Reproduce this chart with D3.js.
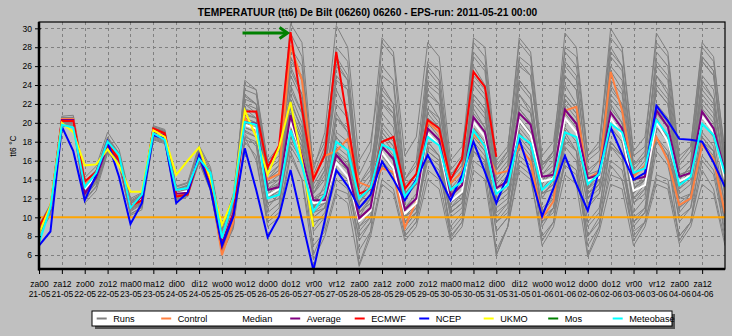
<!DOCTYPE html>
<html>
<head>
<meta charset="utf-8">
<script src="https://cdn.jsdelivr.net/npm/d3@7"></script>
<style>
  html, body { margin: 0; padding: 0; background: #C0C0C0; }
  svg { display: block; }
  text { font-family: "Liberation Sans", Arial, sans-serif; fill: #000; }
</style>
</head>
<body>
<svg id="chart" width="732" height="336"></svg>
<script>
// ---------------- DATA ----------------
const titleText = "TEMPERATUUR (tt6) De Bilt (06260) 06260 - EPS-run: 2011-05-21 00:00";
const yAxisTitle = "tt6 \u00B0C";
const yTicks = [6, 8, 10, 12, 14, 16, 18, 20, 22, 24, 26, 28, 30];
const xTickDay = ["za00","za12","zo00","zo12","ma00","ma12","di00","di12","wo00","wo12","do00","do12","vr00","vr12",
  "za00","za12","zo00","zo12","ma00","ma12","di00","di12","wo00","wo12","do00","do12","vr00","vr12","za00","za12"];
const xTickDate = ["21-05","21-05","22-05","22-05","23-05","23-05","24-05","24-05","25-05","25-05","26-05","26-05","27-05","27-05",
  "28-05","28-05","29-05","29-05","30-05","30-05","31-05","31-05","01-06","01-06","02-06","02-06","03-06","03-06","04-06","04-06"];
const thresholdValue = 10;
// time steps of 6 hours from 21-05 00:00 (0 .. 60)
const stepHours = 6;

const runs = [
  [9.0,11.2,20.5,20.6,13.8,15.0,18.5,16.8,11.5,12.2,19.4,19.0,12.8,13.2,16.9,14.5,7.8, 11.0,22.5,22.0,14.5,15.5,29.5,27.0,14.0,17.0,28.0,26.5,13.5,15.0,24.0,22.0,12.0,13.5,22.5,20.5,13.0,14.5,24.0,22.5,13.5,15.0,23.0,21.0,14.5,15.5,26.0,24.5,15.0,16.0,24.0,22.0,13.0,14.0,22.0,20.5,14.5,15.0,23.5,22.0,15.0],
  [8.5,10.6,20.0,20.1,12.5,14.0,17.2,15.8,10.8,11.6,18.6,18.2,12.0,12.5,16.2,13.4,6.8, 10.0,20.5,20.0,12.0,13.0,24.0,21.0,11.0,13.5,22.0,20.5,10.0,12.0,28.5,27.0,14.0,16.0,26.5,25.5,15.0,16.5,29.0,28.0,16.0,17.5,27.0,26.0,15.0,17.0,29.5,28.0,16.5,18.0,28.0,26.0,15.0,16.5,25.0,23.0,14.0,15.5,24.5,22.5,14.0],
  [8.2,10.2,19.6,19.7,11.5,12.8,16.8,15.6,10.2,10.8,18.2,17.8,11.7,12.2,15.8,12.8,6.2, 8.8,18.5,16.0,9.5,10.5,17.0,14.0,7.0,8.5,13.0,12.5,6.5,8.5,14.0,13.0,8.0,9.5,15.0,14.0,8.0,9.5,16.0,15.0,6.5,9.0,15.0,14.0,8.0,9.5,16.0,15.0,7.0,9.0,15.5,14.0,8.0,9.5,14.5,14.0,8.0,9.5,16.0,14.5,8.5],
  [8.9,11.0,20.4,20.4,13.3,14.6,17.8,16.2,11.4,12.2,19.2,18.8,12.6,13.0,16.6,14.0,7.6, 10.8,20.8,20.5,13.5,14.5,22.5,19.0,12.0,12.5,17.5,16.5,10.5,11.5,19.5,18.0,11.0,12.5,20.5,19.5,12.5,13.5,22.0,20.5,13.0,14.0,21.5,20.0,14.0,14.5,22.0,20.5,14.5,15.0,22.0,20.0,13.5,14.0,21.5,19.5,14.5,15.0,22.0,20.5,14.5],
  [8.7,10.8,20.3,20.3,13.0,14.2,17.9,16.3,11.0,11.8,19.0,18.7,12.4,12.9,16.5,13.8,7.2, 10.5,23.5,23.0,15.0,16.0,27.0,24.5,13.0,15.0,25.0,23.5,11.5,13.5,21.0,19.5,11.0,12.0,19.5,18.0,11.5,12.5,21.0,19.5,12.0,13.0,26.0,25.0,15.5,16.5,24.0,22.0,14.0,15.0,27.0,25.5,15.5,16.5,26.5,25.0,15.0,16.0,27.0,25.5,16.0],
  [8.6,10.7,20.1,20.0,12.8,14.0,17.4,15.9,11.1,11.9,18.9,18.4,12.3,12.7,16.3,13.6,7.0, 10.2,19.0,18.5,11.5,12.0,18.5,16.0,9.5,10.0,14.0,13.0,8.0,9.5,16.5,15.0,9.0,10.5,17.0,16.0,10.0,11.0,18.0,16.5,10.5,11.5,17.5,16.0,11.0,12.0,18.5,17.0,11.5,12.5,17.5,16.0,10.0,11.0,18.0,16.5,12.0,12.5,18.5,17.0,11.5],
  [9.2,11.4,20.7,20.8,14.2,15.4,19.0,17.2,12.0,12.6,19.6,19.2,13.2,13.6,17.4,15.0,8.5, 12.0,24.0,23.5,16.0,17.0,30.5,28.5,15.0,19.0,30.3,28.0,16.0,18.0,26.0,24.5,14.0,15.5,24.0,23.0,14.0,15.5,26.0,24.0,15.0,16.5,24.5,23.0,14.5,16.0,23.0,21.5,13.0,14.5,25.5,23.5,14.5,15.5,23.5,22.0,13.5,15.0,24.0,22.5,14.5],
  [8.3,10.4,19.8,19.9,11.8,13.2,16.9,15.7,10.4,11.0,18.4,18.0,11.9,12.4,16.0,13.0,6.4, 9.2,18.8,17.5,9.8,11.0,19.0,17.0,6.0,9.0,18.5,17.0,5.0,8.5,19.0,17.5,8.0,9.5,18.0,16.5,7.8,9.5,19.5,17.5,6.0,9.0,18.5,17.0,7.5,9.5,19.0,17.0,6.0,9.0,18.0,16.5,7.5,9.5,18.5,16.5,7.5,9.5,18.0,16.5,7.5],
  [8.8,10.9,20.2,20.2,12.9,14.3,17.6,16.0,11.2,12.0,19.0,18.6,12.5,12.8,16.5,13.8,7.4, 10.5,19.8,19.4,13.0,13.6,20.1,16.5,11.5,11.7,15.8,14.3,9.6,10.7,16.9,15.2,10.4,11.5,18.9,17.6,11.7,12.7,20.1,18.5,12.7,13.4,20.3,18.7,13.8,14.1,20.5,19.0,13.9,14.2,20.5,18.7,12.8,13.4,20.1,18.0,13.8,14.4,20.7,19.0,14.0],
  [8.9,11.1,20.6,20.5,13.6,14.8,18.2,16.6,11.6,12.4,19.5,19.1,12.9,13.3,16.9,14.4,7.9, 11.5,21.5,21.0,14.0,15.0,23.5,21.0,12.5,14.0,20.5,19.0,11.5,13.0,22.0,20.5,12.0,13.5,25.5,24.0,14.0,15.5,27.5,26.0,15.5,17.0,29.0,27.5,16.5,18.0,27.5,26.0,16.0,17.0,29.0,27.5,16.5,17.5,29.5,27.5,16.5,17.5,28.0,26.5,17.0],
  [8.6,10.7,20.3,20.4,13.2,14.5,17.7,16.1,11.3,12.1,19.1,18.7,12.6,13.0,16.7,14.0,7.5, 11.2,24.5,23.5,15.5,16.5,26.0,23.0,12.5,15.0,23.5,21.0,11.0,12.0,17.5,16.0,9.5,10.5,16.0,15.0,9.0,10.5,17.0,15.5,9.5,10.5,16.5,15.5,10.0,11.0,16.0,15.0,9.0,10.5,16.0,15.0,9.5,10.5,17.0,15.5,10.0,11.0,16.5,15.0,9.5],
  [8.4,10.5,19.9,19.9,12.2,13.6,17.1,15.7,10.6,11.4,18.5,18.1,12.1,12.5,16.1,13.2,6.6, 9.5,18.2,17.8,11.0,12.5,17.5,15.5,10.0,11.0,16.5,15.0,8.5,10.0,18.0,16.5,9.5,11.0,20.0,18.5,11.0,12.0,21.5,19.5,11.5,12.5,19.0,17.5,12.5,13.0,21.0,19.5,12.0,13.0,19.5,18.0,11.5,12.5,20.5,18.5,12.5,13.5,21.0,19.5,12.5],
  [9.1,11.3,20.4,20.5,13.5,14.7,18.1,16.5,11.7,12.3,19.3,18.9,12.9,13.4,17.0,14.6,8.0, 11.5,22.0,21.0,14.0,15.5,25.0,22.5,12.5,14.5,24.5,23.5,12.0,14.0,25.0,24.0,13.0,14.5,23.0,22.0,13.5,15.0,28.5,27.0,15.0,17.0,28.5,27.0,15.5,17.0,25.0,23.5,13.0,15.0,23.5,22.0,12.5,14.0,24.0,22.5,13.0,14.5,25.0,23.5,14.0],
  [8.5,10.6,20.0,20.0,12.6,13.9,17.3,15.8,10.9,11.7,18.7,18.3,12.2,12.6,16.2,13.3,6.9, 9.8,19.5,19.0,12.0,12.5,19.5,17.0,10.5,11.0,17.0,15.5,9.0,10.5,17.5,16.0,10.0,11.0,17.5,16.5,10.5,11.5,18.5,17.0,11.0,12.0,20.5,19.0,12.5,13.5,22.5,21.0,13.0,14.0,23.0,21.5,13.0,14.0,23.5,22.0,13.5,14.5,23.0,21.5,13.0],
  [8.8,10.9,20.3,20.4,13.1,14.4,17.7,16.1,11.2,12.0,19.1,18.7,12.6,12.9,16.6,13.9,7.3, 10.6,21.0,20.5,13.5,14.0,21.5,18.5,11.0,12.5,19.0,18.0,11.0,12.5,22.0,21.0,12.5,14.0,23.5,22.0,12.5,14.0,23.0,21.5,13.0,14.5,22.0,21.0,14.0,15.0,28.0,27.0,16.5,17.5,30.0,28.0,17.0,18.5,28.5,27.0,16.0,17.5,28.5,27.0,16.5],
  [8.7,10.8,20.1,20.1,12.7,14.1,17.5,16.0,11.0,11.8,18.8,18.5,12.4,12.7,16.4,13.7,7.1, 10.0,20.0,19.5,12.5,13.0,21.0,18.0,10.5,11.5,17.0,15.0,9.0,10.0,15.5,14.5,9.5,10.5,16.5,15.5,10.5,11.5,17.5,16.0,8.5,10.0,16.0,15.0,9.5,10.5,15.5,14.5,8.0,9.5,14.5,14.0,8.5,9.5,14.0,13.5,8.0,9.5,15.0,13.0,7.5],
  [9.0,11.1,20.5,20.4,13.6,14.9,18.3,16.7,11.8,12.5,19.7,19.3,13.3,13.7,17.6,15.3,8.8, 12.5,23.0,22.0,16.0,17.5,26.5,25.0,15.5,18.0,27.0,25.0,14.5,17.0,29.0,27.5,16.5,18.5,28.5,27.0,16.0,17.5,25.0,23.5,14.0,15.5,26.5,25.0,15.5,17.0,26.5,25.0,14.5,16.0,26.0,24.5,14.5,16.0,27.5,26.0,15.5,17.0,27.0,25.5,15.5],
  [8.4,10.4,19.7,19.8,11.9,13.3,16.9,15.6,10.3,11.1,18.3,17.9,11.8,12.3,15.9,12.9,6.3, 9.0,18.0,16.5,9.0,10.0,16.5,14.0,5.5,8.0,12.5,11.5,4.8,8.0,13.5,12.5,7.5,9.0,14.0,13.0,7.5,9.0,15.0,14.0,6.0,9.0,15.5,14.5,7.0,9.0,14.5,13.5,5.8,8.5,13.5,13.0,7.0,9.0,13.5,13.0,7.2,9.0,13.5,12.5,7.0],
  [8.6,10.8,20.2,20.3,12.9,14.2,17.6,16.0,11.1,11.9,19.0,18.6,12.5,12.8,16.5,13.8,7.3, 10.4,21.5,20.5,12.5,13.5,23.0,20.0,11.0,12.5,21.0,19.0,10.5,12.0,20.0,18.5,10.0,11.5,21.5,20.0,12.0,13.5,23.0,21.5,12.5,14.0,24.5,23.0,13.0,14.5,21.5,20.0,12.0,13.5,22.5,21.0,12.0,13.5,21.0,19.5,11.5,12.5,22.5,21.0,12.0],
  [8.9,11.0,20.3,20.2,13.2,14.5,17.9,16.3,11.3,12.1,19.2,18.8,12.6,13.0,16.7,14.1,7.7, 10.9,22.0,21.5,14.0,15.0,25.5,23.0,13.5,15.5,26.0,24.5,13.0,14.5,22.5,21.0,12.5,13.5,21.0,19.5,11.0,12.5,19.5,18.0,10.0,11.5,20.0,18.5,10.5,12.0,18.0,17.0,9.5,11.0,17.5,16.5,9.0,10.5,18.5,17.0,9.5,11.0,19.0,17.5,10.0],
  [8.5,10.5,19.9,20.0,12.4,13.8,17.2,15.8,10.7,11.5,18.6,18.2,12.2,12.6,16.1,13.3,6.7, 9.6,19.2,18.5,10.5,11.5,18.0,16.0,8.5,10.0,20.5,19.5,12.0,13.0,23.5,22.0,13.5,14.5,24.5,23.5,13.5,15.0,22.5,21.0,12.0,13.5,19.0,17.5,9.0,11.0,17.5,16.0,8.0,10.0,21.5,20.0,11.5,13.0,25.0,23.5,14.0,15.5,26.5,25.0,15.0],
  [8.7,10.9,20.4,20.3,13.4,14.6,17.8,16.2,11.4,12.1,19.1,18.7,12.5,12.9,16.6,13.9,7.5, 11.0,20.5,20.0,13.0,14.0,21.0,18.0,10.0,11.0,16.0,15.0,9.5,11.0,18.5,17.0,10.0,11.5,21.5,20.5,12.0,13.5,24.5,23.0,14.0,15.5,24.0,22.5,13.5,15.0,25.0,23.5,12.0,14.0,21.0,19.5,10.5,12.0,19.5,18.5,11.0,12.0,20.0,18.5,11.0],
  [8.8,11.0,20.3,20.2,13.1,14.4,17.7,16.1,11.2,12.0,19.1,18.7,12.6,12.9,16.5,13.8,7.4, 10.6,20.2,19.8,12.8,13.5,22.0,19.5,12.0,13.0,18.5,17.0,10.5,11.5,19.0,17.5,11.0,12.0,18.0,16.5,11.0,12.0,20.5,19.0,12.0,13.0,19.5,18.0,12.5,13.5,20.5,19.0,12.5,13.5,19.5,18.0,12.0,13.0,20.0,18.5,13.0,14.0,21.5,20.0,13.5],
  [8.4,10.6,20.0,20.1,12.3,13.7,17.3,15.9,10.9,11.6,18.8,18.3,12.2,12.6,16.2,13.4,6.8, 9.9,18.5,18.0,11.5,12.0,19.5,17.5,9.0,10.5,15.0,14.0,7.5,9.5,16.0,14.5,8.5,10.0,17.0,16.0,8.5,10.0,18.5,17.0,9.5,11.0,21.5,20.0,10.5,12.5,23.0,21.5,12.5,14.0,24.5,23.0,13.0,14.5,21.5,20.0,11.0,12.5,18.0,17.0,9.5],
  [9.0,11.2,20.5,20.5,13.7,14.9,18.4,16.7,11.6,12.4,19.5,19.1,13.0,13.4,17.1,14.7,8.2, 11.3,22.8,22.0,15.0,16.0,28.0,26.0,14.5,17.5,26.5,24.5,13.5,15.5,23.0,21.5,12.5,14.0,26.0,24.5,14.5,16.0,27.0,25.5,14.5,16.0,23.0,21.5,12.0,14.0,22.5,21.0,13.5,15.0,27.5,26.0,15.5,17.0,26.0,24.5,14.0,15.5,26.5,25.0,15.0],
  [8.6,10.7,20.1,20.2,12.7,14.0,17.5,16.0,11.0,11.8,18.9,18.5,12.4,12.7,16.4,13.6,7.1, 10.2,19.5,19.0,12.0,12.8,20.0,17.5,11.0,11.5,17.0,16.0,10.0,11.0,17.5,16.0,9.0,10.5,19.0,17.5,10.5,11.5,17.0,16.0,8.5,10.0,18.0,16.5,9.5,11.0,19.5,18.0,11.0,12.5,18.0,16.5,9.5,11.0,19.5,18.0,10.5,12.0,18.5,17.0,9.0]
];

const controlValues = [8.8,11.0,20.4,20.4,13.5,14.6,17.7,16.2,11.0,12.0,19.2,18.8,12.4,12.7,16.4,13.6,6.0,
  9.5,20.5,19.0,14.0,14.6,28.2,24.5,14.2,16.5,17.0,18.3,13.7,13.2,15.2,14.8,8.9,11.7,20.1,19.0,13.6,14.8,18.8,17.5,
  14.6,14.9,17.6,15.9,9.9,11.7,21.3,21.7,14.1,14.8,25.4,21.3,14.3,15.5,18.5,16.0,11.3,12.0,17.7,16.2,10.4];
const medianValues = [8.8,10.9,20.2,20.2,13.0,14.3,17.6,16.0,11.2,12.0,19.0,18.6,12.5,12.8,16.5,13.8,7.4,
  10.5,19.8,19.4,12.3,13.0,20.1,16.5,11.5,11.7,15.8,14.3,9.6,10.7,16.9,15.2,10.4,11.5,18.9,17.6,11.7,12.7,20.1,18.5,
  12.7,13.4,20.3,18.7,13.8,14.1,20.5,19.0,13.9,14.2,20.5,18.7,12.8,13.4,20.1,18.0,13.8,14.4,20.7,19.0,14.0];
const averageValues = [8.6,10.8,20.3,20.3,12.5,14.2,17.5,16.0,11.0,12.2,19.0,18.7,12.5,12.6,16.3,13.5,7.3,
  10.5,20.1,19.9,12.9,13.2,20.8,16.5,11.8,11.8,16.6,15.2,9.9,11.0,17.5,16.2,10.8,12.0,19.4,18.2,12.3,13.4,20.6,19.0,
  13.1,13.8,21.0,19.8,14.3,14.5,21.4,19.9,14.1,14.5,21.1,19.4,14.0,14.3,21.3,19.6,14.3,14.7,21.2,19.4,14.8];
const ecmwfValues = [9.0,11.1,20.2,20.2,13.8,14.8,17.8,16.1,11.2,11.8,19.4,18.9,12.2,12.4,16.5,14.0,6.9,
  10.3,21.2,21.2,15.3,17.6,29.6,21.5,14.0,16.6,27.5,20.0,12.5,13.0,18.0,18.5,13.0,14.6,20.3,19.4,14.0,16.2,25.4,23.8,16.4];
const ncepValues = [7.0,8.5,19.6,17.0,11.8,14.5,18.0,14.3,9.3,11.5,18.7,18.3,11.5,12.6,16.6,13.0,7.0,
  10.1,17.3,12.9,7.9,10.1,15.0,9.7,4.4,9.7,15.0,13.3,11.0,12.4,15.9,14.0,11.8,14.0,16.6,14.3,11.8,14.5,18.0,14.8,
  11.5,14.5,18.3,14.5,10.1,13.1,16.5,13.5,10.7,15.0,19.5,16.7,14.0,14.7,21.8,20.2,18.3,18.2,18.0,15.8,13.2];
const ukmoValues = [8.3,11.2,20.0,19.0,15.5,15.6,17.2,15.5,12.7,12.7,19.2,18.5,14.5,16.0,17.4,14.0,9.2,
  12.0,21.3,18.5,14.5,17.4,22.2,16.0,9.0];
const mosValues = [];
const meteobaseValues = [7.3,11.0,19.8,19.5,13.2,14.7,18.0,16.6,11.0,12.4,18.9,18.2,12.9,13.1,16.2,14.7,7.8,
  12.0,20.1,19.8,12.0,12.4,19.2,15.5,10.6,12.4,18.0,17.1,12.0,13.1,17.7,17.1,12.2,13.8,18.5,17.6,12.9,13.8,19.2,17.5,
  12.5,13.4,18.7,17.8,12.9,14.0,19.0,18.5,13.5,14.6,19.9,19.0,14.7,15.2,20.3,18.7,13.4,14.3,19.9,18.7,14.6];

const seriesNames = ["Runs","Control","Median","Average","ECMWF","NCEP","UKMO","Mos","Meteobase"];
const seriesColors = ["#808080","#FF8040","#FFFFFF","#800080","#FF0000","#0000FF","#FFFF00","#008000","#00FFFF"];
const seriesData = [null, controlValues, medianValues, averageValues, ecmwfValues, ncepValues, ukmoValues, mosValues, meteobaseValues];
// annotation: arrow pointing at the ECMWF maximum (step 22)
const arrowStep = 22;

// ---------------- CHART ----------------
const svg = d3.select("#chart");
const W = 732, H = 336;
const m = {left: 39, right: 7, top: 22, bottom: 67};
const x = d3.scaleLinear().domain([0, 60]).range([m.left, W - m.right]);
const y = d3.scaleLinear().domain([4.53, 30.67]).range([H - m.bottom, m.top]);

// title
svg.append("text")
  .attr("x", 367.5).attr("y", 15.5)
  .attr("text-anchor", "middle")
  .style("font-size", "10.2px").style("font-weight", "bold")
  .text(titleText);

// clip
svg.append("clipPath").attr("id", "plotclip")
  .append("rect").attr("x", x(0)).attr("y", y.range()[1])
  .attr("width", x(60) - x(0)).attr("height", y.range()[0] - y.range()[1]);

// grid
const grid = svg.append("g").attr("stroke", "#808080").attr("stroke-width", 1)
  .attr("stroke-dasharray", "3,3").attr("shape-rendering", "crispEdges");
grid.selectAll("line.h").data(yTicks).join("line")
  .attr("x1", x(0)).attr("x2", x(60))
  .attr("y1", d => Math.round(y(d)) + 0.5).attr("y2", d => Math.round(y(d)) + 0.5);
const xTickSteps = xTickDay.map((d, i) => i * 12 / stepHours);
grid.selectAll("line.v").data(xTickSteps.filter(d => d > 0)).join("line")
  .attr("y1", y.range()[1]).attr("y2", y.range()[0])
  .attr("x1", d => Math.round(x(d)) + 0.5).attr("x2", d => Math.round(x(d)) + 0.5);

const plot = svg.append("g").attr("clip-path", "url(#plotclip)");
const line = d3.line().x((d, i) => x(i)).y(d => y(d));

// runs
plot.append("g").selectAll("path").data(runs).join("path")
  .attr("d", line).attr("fill", "none")
  .attr("stroke", seriesColors[0]).attr("stroke-width", 1);

// threshold line
plot.append("line")
  .attr("x1", x(0)).attr("x2", x(60))
  .attr("y1", y(thresholdValue)).attr("y2", y(thresholdValue))
  .attr("stroke", "#FFA500").attr("stroke-width", 2);

// colored series
seriesData.forEach((vals, k) => {
  if (!vals || vals.length < 2) return;
  plot.append("path").datum(vals)
    .attr("d", line).attr("fill", "none")
    .attr("stroke", seriesColors[k]).attr("stroke-width", 2)
    .attr("stroke-linejoin", "miter");
});

// frame
svg.append("rect")
  .attr("x", x(0)).attr("y", y.range()[1])
  .attr("width", x(60) - x(0)).attr("height", y.range()[0] - y.range()[1])
  .attr("fill", "none").attr("stroke", "#000").attr("stroke-width", 1.2);

// y axis
const yAxis = svg.append("g").attr("transform", `translate(${x(0)},0)`)
  .call(d3.axisLeft(y).tickValues(yTicks).tickSize(5).tickPadding(2));
yAxis.select(".domain").remove();
yAxis.selectAll(".tick line").attr("stroke", "#000").attr("x2", 2).attr("x1", -4);
yAxis.selectAll(".tick text").style("font-size", "8.5px").style("font-family", "Liberation Sans, Arial, sans-serif");
svg.append("line").attr("x1", x(0)).attr("x2", x(0))
  .attr("y1", y.range()[1]).attr("y2", y.range()[0] + 1.5)
  .attr("stroke", "#000").attr("stroke-width", 2.5);

// x axis
const xAxis = svg.append("g").attr("transform", `translate(0,${y.range()[0]})`)
  .call(d3.axisBottom(x).tickValues(xTickSteps).tickSize(5).tickFormat((d, i) => xTickDay[i]));
xAxis.select(".domain").remove();
xAxis.selectAll(".tick line").attr("stroke", "#000");
xAxis.selectAll(".tick text").each(function(d, i) {
  const t = d3.select(this);
  t.text(null).attr("y", 0).attr("dy", null)
    .style("font-size", "8.5px").style("font-family", "Liberation Sans, Arial, sans-serif");
  t.append("tspan").attr("x", 0).attr("y", 18).text(xTickDay[i]);
  t.append("tspan").attr("x", 0).attr("y", 28).text(xTickDate[i]);
});
svg.append("line").attr("x1", x(0) - 1).attr("x2", x(60))
  .attr("y1", y.range()[0]).attr("y2", y.range()[0])
  .attr("stroke", "#000").attr("stroke-width", 2.5);

// y axis title
svg.append("text")
  .attr("transform", `translate(16,${146}) rotate(-90)`)
  .attr("text-anchor", "middle")
  .style("font-size", "8.5px")
  .text(yAxisTitle);

// arrow annotation
const tipX = x(arrowStep) - 3, tipY = y(ecmwfValues[arrowStep]) + 1;
const arrow = svg.append("g").attr("stroke", "#008000").attr("stroke-width", 3).attr("fill", "none");
arrow.append("line").attr("x1", tipX - 45).attr("x2", tipX - 1).attr("y1", tipY).attr("y2", tipY);
arrow.append("path").attr("d", `M${tipX - 8},${tipY - 5.5}L${tipX},${tipY}L${tipX - 8},${tipY + 5.5}`);

// legend
const lg = svg.append("g");
const lgX = 92, lgY = 311, lgW = 580, lgH = 15;
lg.append("rect").attr("x", lgX + 3).attr("y", lgY + 3).attr("width", lgW).attr("height", lgH)
  .attr("fill", "#404040").attr("opacity", 0.85);
lg.append("rect").attr("x", lgX).attr("y", lgY).attr("width", lgW).attr("height", lgH)
  .attr("fill", "#FFFFFF").attr("stroke", "#000").attr("stroke-width", 1);
const items = lg.selectAll("g.item").data(seriesNames).join("g")
  .attr("transform", (d, i) => `translate(${96.7 + i * 64.5},${lgY + lgH / 2})`);
items.append("line").attr("x1", 0).attr("x2", 10).attr("y1", 0).attr("y2", 0)
  .attr("stroke", (d, i) => seriesColors[i]).attr("stroke-width", 2);
items.append("text").attr("x", 16.5).attr("y", 3.3)
  .style("font-size", "9.2px").text(d => d);
</script>
</body>
</html>
